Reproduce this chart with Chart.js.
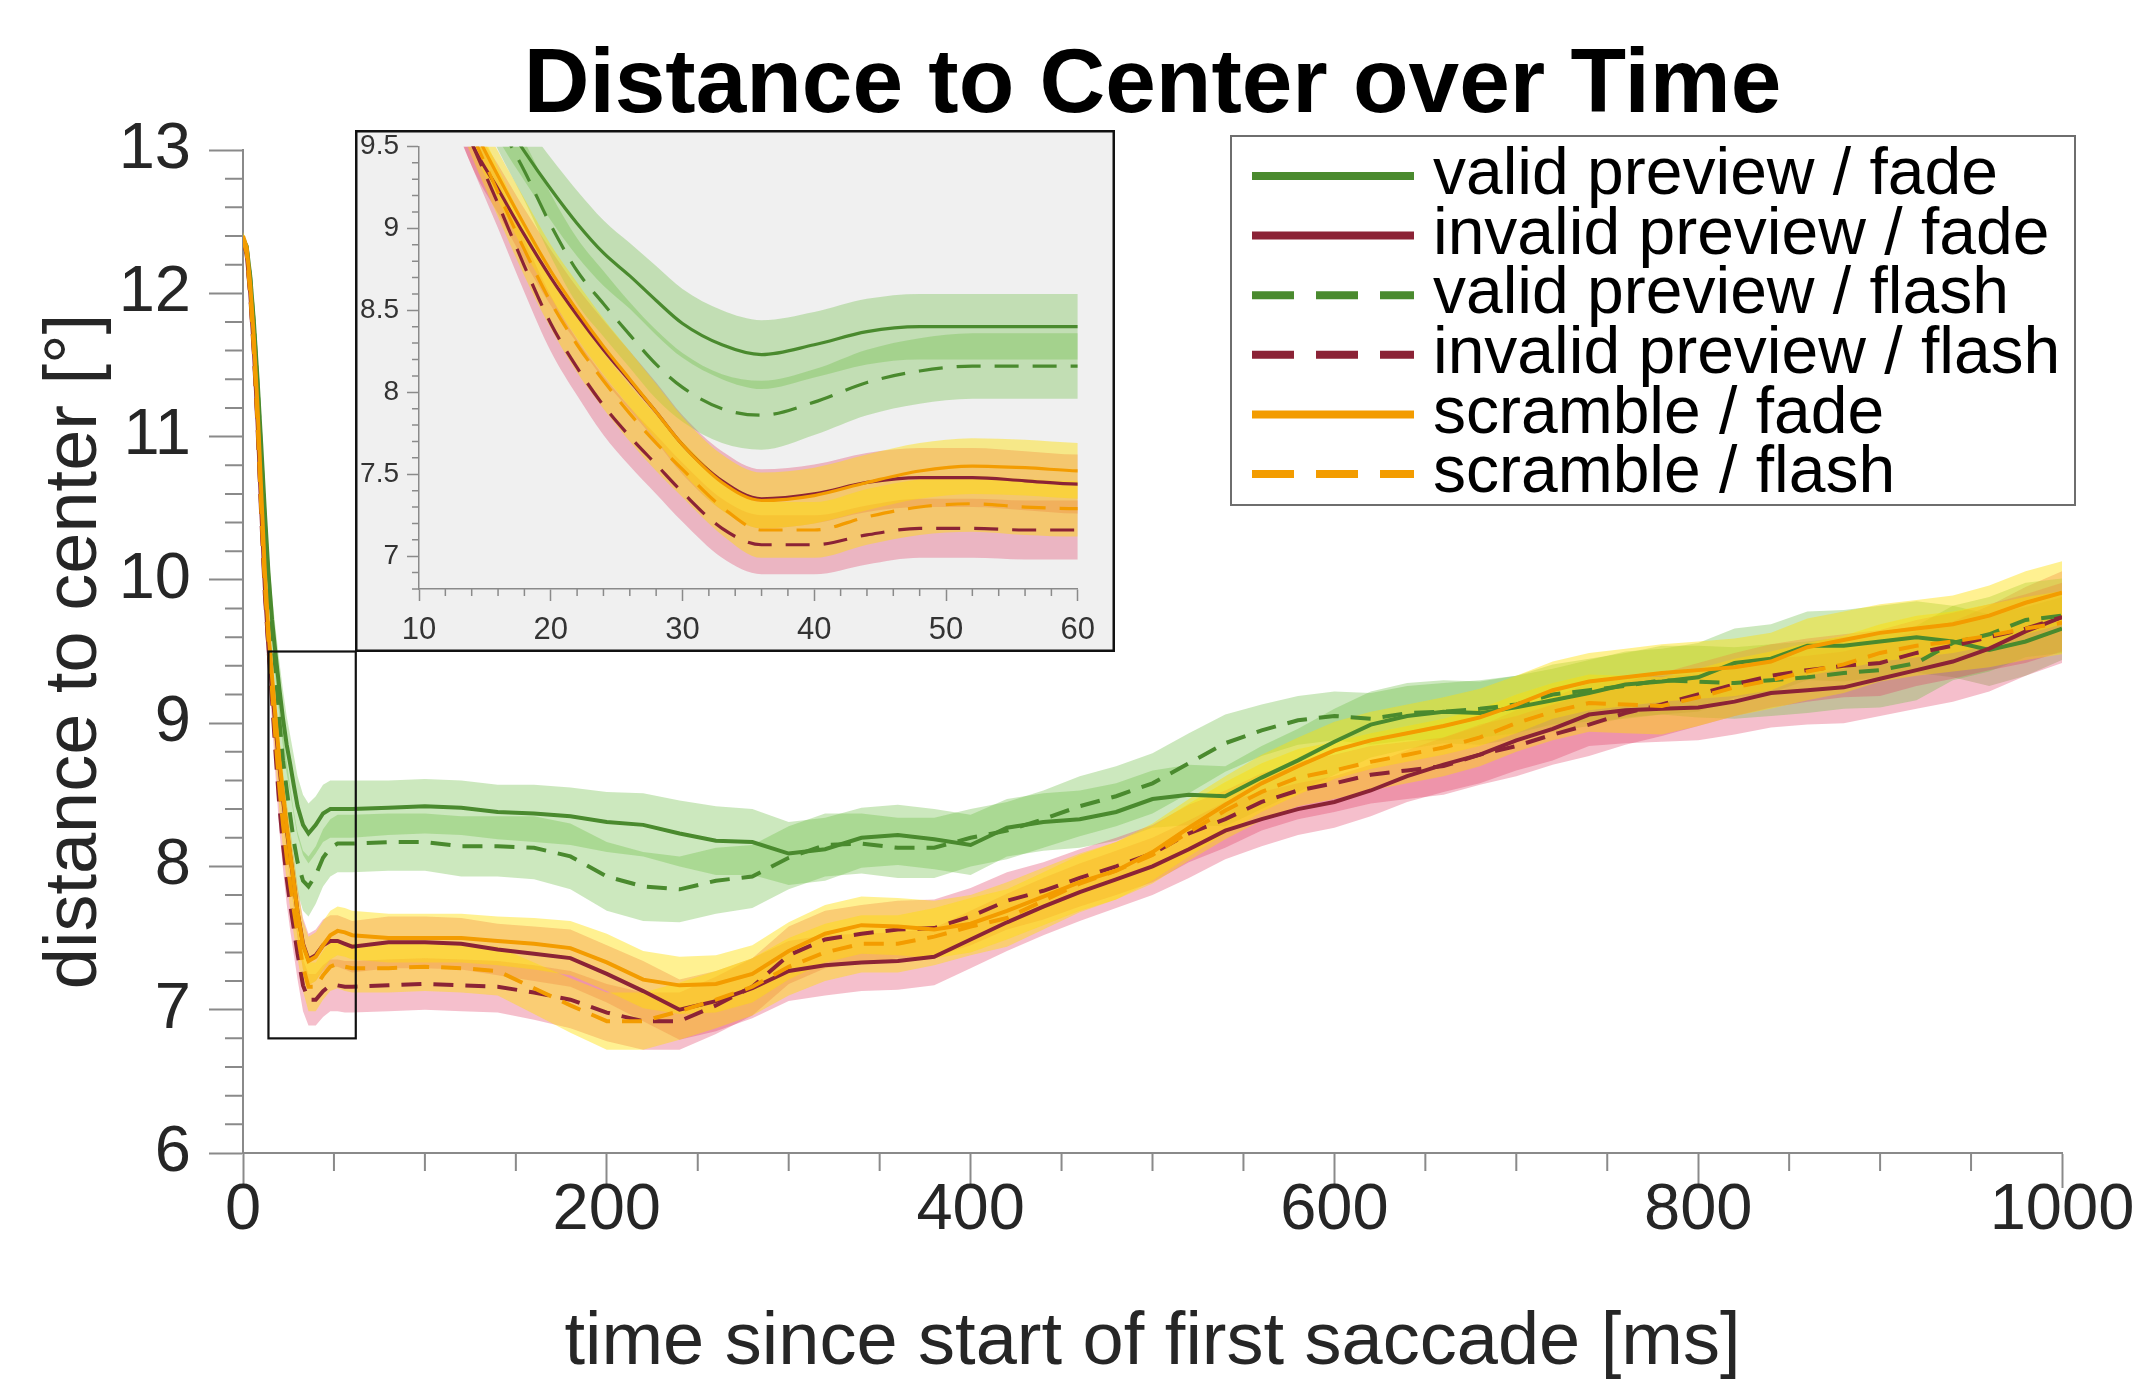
<!DOCTYPE html>
<html><head><meta charset="utf-8">
<script src="https://cdn.jsdelivr.net/npm/chart.js@4.4.1/dist/chart.umd.min.js"></script>
<style>
html,body{margin:0;padding:0;background:#fff;}
#wrap{position:relative;width:2138px;height:1385px;overflow:hidden;}
#main{position:absolute;left:0;top:0;}
#inset{position:absolute;left:355px;top:130px;}
</style></head><body>
<div id="wrap"><canvas id="main" width="2138" height="1385"></canvas><canvas id="inset" width="760" height="522"></canvas></div>
<script>
// ---------------- data ----------------
const T = [0,2,4,6,8,10,12,14,16,18,20,22,24,26,28,30,33,36,40,44,48,52,56,60,
  80,100,120,140,160,180,200,220,240,260,280,300,320,340,360,380,400,420,440,460,480,500,
  520,540,560,580,600,620,640,660,680,700,720,740,760,780,800,820,840,860,880,900,920,940,960,980,1000];

const validFade = [12.38,12.33,12.12,11.8,11.4,10.95,10.48,10.05,9.72,9.47,9.24,9.03,8.85,8.71,8.56,8.42,8.29,8.23,8.29,8.37,8.40,8.40,8.40,8.40,
  8.41,8.42,8.41,8.38,8.37,8.35,8.31,8.29,8.23,8.18,8.17,8.09,8.12,8.20,8.22,8.19,8.15,8.27,8.31,8.33,8.38,8.47,
  8.50,8.49,8.62,8.74,8.87,8.99,9.05,9.08,9.07,9.11,9.16,9.21,9.27,9.29,9.32,9.42,9.45,9.54,9.54,9.57,9.60,9.57,9.51,9.57,9.66];
const invalidFade = [12.38,12.28,12.00,11.60,11.10,10.50,9.95,9.52,9.24,8.96,8.70,8.47,8.26,8.07,7.88,7.68,7.46,7.35,7.38,7.45,7.48,7.48,7.46,7.44,
  7.47,7.47,7.46,7.42,7.39,7.36,7.25,7.13,7.00,7.06,7.15,7.27,7.31,7.33,7.34,7.37,7.49,7.61,7.72,7.82,7.91,8.00,
  8.12,8.25,8.33,8.40,8.45,8.53,8.63,8.71,8.78,8.88,8.96,9.06,9.09,9.10,9.11,9.15,9.21,9.23,9.25,9.31,9.37,9.43,9.52,9.64,9.74];
const validFlash = [12.38,12.32,12.10,11.77,11.35,10.88,10.40,9.97,9.65,9.35,9.02,8.74,8.54,8.35,8.17,8.03,7.90,7.86,7.94,8.06,8.13,8.16,8.16,8.16,
  8.17,8.17,8.14,8.14,8.13,8.07,7.93,7.86,7.84,7.90,7.93,8.06,8.15,8.16,8.13,8.13,8.20,8.25,8.33,8.42,8.49,8.58,
  8.72,8.86,8.95,9.02,9.05,9.03,9.07,9.08,9.10,9.13,9.20,9.23,9.26,9.30,9.29,9.28,9.30,9.32,9.35,9.37,9.42,9.56,9.62,9.72,9.75];
const invalidFlash = [12.38,12.27,11.98,11.57,11.06,10.45,9.90,9.52,9.15,8.77,8.42,8.15,7.92,7.73,7.56,7.39,7.17,7.07,7.07,7.13,7.17,7.17,7.16,7.16,
  7.17,7.18,7.17,7.16,7.12,7.07,6.98,6.92,6.92,7.03,7.16,7.38,7.49,7.53,7.56,7.57,7.65,7.76,7.83,7.92,8.00,8.09,
  8.23,8.33,8.45,8.53,8.58,8.64,8.67,8.70,8.78,8.84,8.92,8.99,9.07,9.13,9.20,9.27,9.33,9.37,9.40,9.42,9.49,9.54,9.60,9.66,9.74];
const scrambleFade = [12.40,12.32,12.06,11.68,11.20,10.62,10.06,9.64,9.32,9.02,8.74,8.50,8.28,8.08,7.88,7.68,7.45,7.34,7.37,7.45,7.52,7.55,7.54,7.52,
  7.50,7.50,7.50,7.48,7.46,7.43,7.33,7.21,7.17,7.18,7.25,7.41,7.53,7.59,7.58,7.56,7.60,7.69,7.79,7.89,7.97,8.10,
  8.27,8.43,8.58,8.70,8.81,8.88,8.93,8.98,9.04,9.13,9.23,9.29,9.32,9.35,9.37,9.39,9.43,9.53,9.58,9.63,9.66,9.69,9.75,9.84,9.91];
const scrambleFlash = [12.38,12.28,12.00,11.60,11.10,10.50,9.97,9.58,9.22,8.87,8.55,8.29,8.07,7.87,7.69,7.53,7.30,7.16,7.16,7.24,7.30,7.32,7.30,7.29,
  7.29,7.30,7.29,7.27,7.15,7.03,6.92,6.92,6.99,7.07,7.16,7.30,7.40,7.46,7.46,7.51,7.58,7.64,7.76,7.88,7.97,8.08,
  8.24,8.39,8.52,8.62,8.67,8.73,8.78,8.83,8.90,9.00,9.08,9.14,9.13,9.12,9.18,9.25,9.30,9.36,9.41,9.49,9.54,9.57,9.61,9.66,9.70];

// confidence half-widths
const ciValidFade = [0.03,0.04,0.05,0.07,0.09,0.11,0.13,0.15,0.17,0.18,0.19,0.2,0.2,0.2,0.21,0.21,0.21,0.21,0.2,0.2,0.2,0.2,0.2,0.2,
  0.19,0.19,0.19,0.19,0.2,0.2,0.21,0.22,0.23,0.24,0.23,0.22,0.22,0.21,0.21,0.21,0.21,0.2,0.2,0.2,0.2,0.2,
  0.21,0.21,0.22,0.22,0.23,0.23,0.23,0.22,0.22,0.22,0.22,0.23,0.23,0.23,0.24,0.24,0.24,0.24,0.25,0.25,0.25,0.25,0.25,0.24,0.22];
const ciValidFlash = [0.03,0.04,0.05,0.07,0.09,0.11,0.13,0.15,0.17,0.18,0.19,0.2,0.2,0.2,0.21,0.21,0.21,0.21,0.2,0.2,0.2,0.2,0.2,0.2,
  0.2,0.2,0.21,0.21,0.22,0.23,0.24,0.24,0.23,0.23,0.22,0.22,0.22,0.21,0.21,0.21,0.2,0.2,0.2,0.21,0.21,0.21,
  0.21,0.2,0.18,0.17,0.17,0.18,0.19,0.2,0.2,0.2,0.21,0.22,0.23,0.24,0.25,0.25,0.25,0.25,0.25,0.26,0.26,0.26,0.26,0.26,0.26];
const ciInvalidFade = [0.03,0.04,0.05,0.06,0.08,0.1,0.12,0.14,0.15,0.16,0.17,0.17,0.18,0.18,0.18,0.18,0.18,0.18,0.18,0.18,0.18,0.18,0.18,0.18,
  0.18,0.18,0.18,0.18,0.19,0.2,0.2,0.21,0.21,0.21,0.21,0.21,0.21,0.2,0.2,0.2,0.2,0.2,0.2,0.2,0.2,0.2,
  0.2,0.2,0.19,0.18,0.18,0.18,0.18,0.19,0.2,0.21,0.22,0.22,0.23,0.23,0.23,0.23,0.24,0.24,0.25,0.26,0.27,0.28,0.3,0.31,0.32];
const ciInvalidFlash = [0.03,0.04,0.05,0.06,0.08,0.1,0.12,0.14,0.15,0.16,0.17,0.17,0.18,0.18,0.18,0.18,0.18,0.18,0.18,0.18,0.18,0.18,0.18,0.18,
  0.18,0.18,0.18,0.18,0.19,0.2,0.2,0.2,0.2,0.2,0.2,0.2,0.2,0.2,0.2,0.2,0.2,0.2,0.2,0.2,0.2,0.2,
  0.2,0.2,0.2,0.2,0.2,0.2,0.2,0.2,0.21,0.21,0.21,0.22,0.22,0.22,0.22,0.22,0.22,0.22,0.22,0.23,0.23,0.23,0.23,0.24,0.24];
const ciScrambleFade = [0.03,0.04,0.05,0.06,0.08,0.1,0.12,0.14,0.15,0.16,0.16,0.17,0.17,0.17,0.17,0.17,0.17,0.17,0.17,0.17,0.17,0.17,0.17,0.17,
  0.17,0.17,0.17,0.17,0.18,0.19,0.2,0.2,0.2,0.2,0.2,0.2,0.2,0.2,0.2,0.2,0.2,0.2,0.2,0.2,0.2,0.2,
  0.2,0.2,0.2,0.2,0.2,0.2,0.2,0.2,0.2,0.2,0.2,0.2,0.2,0.2,0.2,0.2,0.2,0.2,0.2,0.2,0.2,0.2,0.21,0.22,0.22];
const ciScrambleFlash = [0.03,0.04,0.05,0.06,0.08,0.1,0.12,0.14,0.15,0.16,0.16,0.17,0.17,0.17,0.17,0.17,0.17,0.17,0.17,0.17,0.17,0.17,0.17,0.17,
  0.17,0.17,0.17,0.17,0.18,0.19,0.2,0.2,0.2,0.2,0.2,0.2,0.2,0.2,0.2,0.2,0.2,0.2,0.2,0.2,0.2,0.2,
  0.2,0.2,0.2,0.2,0.2,0.2,0.2,0.2,0.2,0.2,0.2,0.2,0.2,0.2,0.2,0.2,0.2,0.2,0.2,0.2,0.21,0.21,0.22,0.22,0.22];

const seriesLabels = ['valid preview / fade','invalid preview / fade','valid preview / flash','invalid preview / flash','scramble / fade','scramble / flash'];

// tick values
const xMinorTicks = [50,100,150,250,300,350,450,500,550,650,700,750,850,900,950];
const yMinorTicks = [6.2,6.4,6.6,6.8,7.2,7.4,7.6,7.8,8.2,8.4,8.6,8.8,9.2,9.4,9.6,9.8,10.2,10.4,10.6,10.8,11.2,11.4,11.6,11.8,12.2,12.4,12.6,12.8];
const insetYTicks = [7,7.5,8,8.5,9,9.5];
const insetXMinor = [12,14,16,18,22,24,26,28,32,34,36,38,42,44,46,48,52,54,56,58];
const insetYMinor = [6.8,6.9,7.1,7.2,7.3,7.4,7.6,7.7,7.8,7.9,8.1,8.2,8.3,8.4,8.6,8.7,8.8,8.9,9.1,9.2,9.3,9.4];
const zoomBoxX = [14,62];
const zoomBoxY = [6.8,9.5];

// ---------------- styling ----------------
const FONT = "'Liberation Sans', Arial, Helvetica, sans-serif";
Chart.defaults.font.family = FONT;
Chart.defaults.color = '#262626';
const GREEN = '#4a8a2e', MAROON = '#8b2336', ORANGE = '#f39c00';
const B_GREEN = 'rgba(110,190,70,0.35)', B_PINK = 'rgba(225,60,100,0.33)', B_YELLOW = 'rgba(255,222,0,0.43)';
const AXIS = '#8a8a8a';

const SERIES = [
  {label: seriesLabels[0], v: validFade,    ci: ciValidFade,    color: GREEN,  band: B_GREEN,  dashed: false},
  {label: seriesLabels[1], v: invalidFade,  ci: ciInvalidFade,  color: MAROON, band: B_PINK,   dashed: false},
  {label: seriesLabels[2], v: validFlash,   ci: ciValidFlash,   color: GREEN,  band: B_GREEN,  dashed: true},
  {label: seriesLabels[3], v: invalidFlash, ci: ciInvalidFlash, color: MAROON, band: B_PINK,   dashed: true},
  {label: seriesLabels[4], v: scrambleFade, ci: ciScrambleFade, color: ORANGE, band: B_YELLOW, dashed: false},
  {label: seriesLabels[5], v: scrambleFlash,ci: ciScrambleFlash,color: ORANGE, band: B_YELLOW, dashed: true}
];

function buildDatasets(lw, dash, smooth) {
  const ds = [];
  const interp = smooth ? 'monotone' : 'default';
  SERIES.forEach((s, k) => {
    ds.push({label: s.label, isLine: true, legendIndex: k, order: 5 - k,
      data: T.map((t, i) => ({x: t, y: s.v[i]})),
      borderColor: s.color, backgroundColor: s.color, borderWidth: lw,
      borderDash: s.dashed ? dash : [], dashed: s.dashed,
      pointRadius: 0, fill: false, tension: 0, cubicInterpolationMode: interp});
  });
  SERIES.forEach((s, k) => {
    ds.push({label: s.label + ' lower', order: 100 - 2 * k,
      data: T.map((t, i) => ({x: t, y: s.v[i] - s.ci[i]})),
      borderWidth: 0, pointRadius: 0, fill: false, tension: 0, cubicInterpolationMode: interp});
    ds.push({label: s.label + ' upper', order: 99 - 2 * k,
      data: T.map((t, i) => ({x: t, y: s.v[i] + s.ci[i]})),
      borderWidth: 0, pointRadius: 0, fill: '-1', backgroundColor: s.band, tension: 0, cubicInterpolationMode: interp});
  });
  return ds;
}

const minorTicksPlugin = {
  id: 'minorTicks',
  afterDraw(chart, args, o) {
    const ctx = chart.ctx, xs = chart.scales.x, ys = chart.scales.y;
    ctx.save();
    ctx.strokeStyle = o.color; ctx.lineWidth = o.width;
    ctx.beginPath();
    o.x.forEach(v => { const p = xs.getPixelForValue(v); ctx.moveTo(p, xs.top); ctx.lineTo(p, xs.top + o.len); });
    o.y.forEach(v => { const p = ys.getPixelForValue(v); ctx.moveTo(ys.right, p); ctx.lineTo(ys.right - o.len, p); });
    ctx.stroke();
    ctx.restore();
  }
};

const zoomBoxPlugin = {
  id: 'zoomBox',
  afterDatasetsDraw(chart, args, o) {
    if (!o.x) return;
    const ctx = chart.ctx, xs = chart.scales.x, ys = chart.scales.y;
    const x0 = xs.getPixelForValue(o.x[0]), x1 = xs.getPixelForValue(o.x[1]);
    const y0 = ys.getPixelForValue(o.y[1]), y1 = ys.getPixelForValue(o.y[0]);
    ctx.save(); ctx.strokeStyle = '#111'; ctx.lineWidth = 2.2;
    ctx.strokeRect(x0, y0, x1 - x0, y1 - y0); ctx.restore();
  }
};

const boxLegendPlugin = {
  id: 'boxLegend',
  afterDraw(chart, args, o) {
    if (!o.show) return;
    const ctx = chart.ctx;
    ctx.save();
    ctx.fillStyle = '#fff'; ctx.fillRect(o.x, o.y, o.w, o.h);
    ctx.strokeStyle = '#6e6e6e'; ctx.lineWidth = 2; ctx.strokeRect(o.x, o.y, o.w, o.h);
    const items = chart.data.datasets.filter(d => d.isLine).sort((a, b) => a.legendIndex - b.legendIndex);
    items.forEach((d, i) => {
      const cy = o.row0 + i * o.rowGap;
      ctx.beginPath();
      ctx.setLineDash(d.dashed ? o.dash : []);
      ctx.strokeStyle = d.borderColor; ctx.lineWidth = o.lineWidth; ctx.lineCap = 'butt';
      ctx.moveTo(o.lineX0, cy); ctx.lineTo(o.lineX1, cy); ctx.stroke();
      ctx.setLineDash([]);
      ctx.fillStyle = '#000'; ctx.font = o.fontSize + 'px ' + FONT;
      ctx.textBaseline = 'middle'; ctx.textAlign = 'left';
      ctx.fillText(d.label, o.textX, cy);
    });
    ctx.restore();
  }
};

const insetFramePlugin = {
  id: 'insetFrame',
  beforeDraw(chart, args, o) {
    if (!o.show) return;
    const ctx = chart.ctx; ctx.save();
    ctx.fillStyle = '#f0f0f0'; ctx.fillRect(0, 0, chart.width, chart.height); ctx.restore();
  },
  afterDraw(chart, args, o) {
    if (!o.show) return;
    const ctx = chart.ctx; ctx.save();
    ctx.strokeStyle = '#111'; ctx.lineWidth = 2.5;
    ctx.strokeRect(1.25, 1.25, chart.width - 2.5, chart.height - 2.5); ctx.restore();
  }
};

// ---------------- main chart ----------------
new Chart(document.getElementById('main'), {
  type: 'line',
  data: {datasets: buildDatasets(4, [20, 12], false)},
  plugins: [minorTicksPlugin, zoomBoxPlugin, boxLegendPlugin],
  options: {
    responsive: false, animation: false, events: [],
    layout: {padding: {left: 0, right: 76, top: 0, bottom: 0}},
    plugins: {
      legend: {display: false}, tooltip: {enabled: false},
      title: {display: true, fullSize: false, text: 'Distance to Center over Time', color: '#000',
        font: {size: 91, weight: 'bold', lineHeight: 1}, padding: {top: 41, bottom: 18}},
      minorTicks: {x: xMinorTicks, y: yMinorTicks, len: 18, color: AXIS, width: 2},
      zoomBox: {x: zoomBoxX, y: zoomBoxY},
      boxLegend: {show: true, x: 1231, y: 136, w: 844, h: 369, row0: 176, rowGap: 59.6,
        lineX0: 1252, lineX1: 1414, textX: 1433, lineWidth: 8, dash: [42, 22], fontSize: 66}
    },
    scales: {
      x: {type: 'linear', min: 0, max: 1000,
        ticks: {stepSize: 200, font: {size: 65, lineHeight: 1}, padding: -9, color: '#262626', maxRotation: 0, autoSkip: false,
          callback: v => String(v)},
        grid: {drawOnChartArea: false, drawTicks: true, tickLength: 35, tickWidth: 2, tickColor: AXIS},
        border: {display: true, color: AXIS, width: 2},
        title: {display: true, text: 'time since start of first saccade [ms]', color: '#262626',
          font: {size: 74, lineHeight: 1}, padding: {top: 0, bottom: 4}},
        afterFit: s => { s.height = 232; }
      },
      y: {type: 'linear', min: 6, max: 13,
        ticks: {stepSize: 1, font: {size: 65, lineHeight: 1}, padding: 18, color: '#262626', callback: v => String(v)},
        grid: {drawOnChartArea: false, drawTicks: true, tickLength: 34, tickWidth: 2, tickColor: AXIS},
        border: {display: true, color: AXIS, width: 2},
        title: {display: true, text: 'distance to center [°]', color: '#262626',
          font: {size: 74, lineHeight: 1.2}, padding: {top: 31, bottom: 0}},
        afterFit: s => { s.width = 243; }
      }
    }
  }
});

// ---------------- inset chart ----------------
new Chart(document.getElementById('inset'), {
  type: 'line',
  data: {datasets: buildDatasets(3.2, [24, 14], true)},
  plugins: [insetFramePlugin, minorTicksPlugin],
  options: {
    responsive: false, animation: false, events: [],
    layout: {padding: {left: 0, right: 18, top: 11, bottom: 0}},
    plugins: {
      legend: {display: false}, tooltip: {enabled: false}, title: {display: false},
      insetFrame: {show: true},
      minorTicks: {x: insetXMinor, y: insetYMinor, len: 7, color: AXIS, width: 1.5}
    },
    scales: {
      x: {type: 'linear', min: 10, max: 60,
        ticks: {stepSize: 10, font: {size: 31, lineHeight: 0.6}, padding: 20, color: '#333', maxRotation: 0, autoSkip: false},
        grid: {drawOnChartArea: false, drawTicks: true, tickLength: 12, tickWidth: 1.5, tickColor: AXIS},
        border: {display: true, color: AXIS, width: 1.5},
        afterFit: s => { s.height = 63; }
      },
      y: {type: 'linear', min: 6.8, max: 9.5,
        afterBuildTicks: s => { s.ticks = insetYTicks.map(v => ({value: v})); },
        ticks: {font: {size: 28, lineHeight: 0.6}, padding: 8, color: '#333', callback: v => String(v)},
        grid: {drawOnChartArea: false, drawTicks: true, tickLength: 12, tickWidth: 1.5, tickColor: AXIS},
        border: {display: true, color: AXIS, width: 1.5},
        afterFit: s => { s.width = 64; }
      }
    }
  }
});
</script>
</body></html>
